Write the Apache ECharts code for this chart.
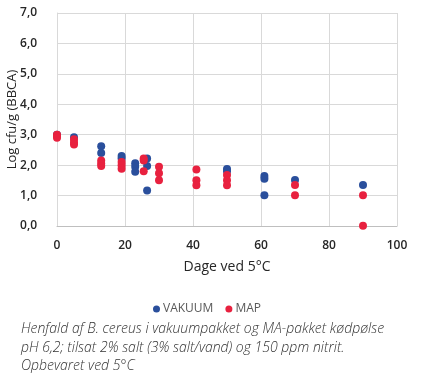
<!DOCTYPE html>
<html><head><meta charset="utf-8">
<script src="https://cdn.jsdelivr.net/npm/echarts@6/dist/echarts.min.js"></script>
<style>html,body{margin:0;padding:0;background:#fff}#c{width:432px;height:390px}</style>
</head><body><div id="c"></div>
<script>
var xTicks = [0, 20, 40, 60, 80, 100];
var yTicks = [0, 1, 2, 3, 4, 5, 6, 7];
var seriesNames = ['VAKUUM', 'MAP'];
var vakuumDays = [0, 5, 13, 13, 19, 19, 23, 23, 23, 26.5, 26.5, 26.5, 50, 50, 61, 61, 61, 70, 90];
var vakuumLog  = [3.0, 2.92, 2.62, 2.4, 2.3, 2.22, 2.06, 1.95, 1.78, 2.22, 1.97, 1.17, 1.87, 1.8, 1.64, 1.55, 1.01, 1.51, 1.35];
var mapDays = [0, 0, 0, 5, 5, 5, 13, 13, 13, 19, 19, 19, 25.5, 25.5, 25.5, 30, 30, 30, 41, 41, 41, 50, 50, 50, 70, 70, 90, 90];
var mapLog  = [3.0, 2.95, 2.9, 2.85, 2.75, 2.68, 2.15, 2.05, 1.97, 2.1, 2.0, 1.88, 2.22, 2.15, 1.8, 1.95, 1.73, 1.5, 1.86, 1.5, 1.34, 1.68, 1.5, 1.34, 1.35, 1.01, 1.01, 0.01];
var caption = 'Henfald af B. cereus i vakuumpakket og MA-pakket kødpølse\npH 6,2; tilsat 2% salt (3% salt/vand) og 150 ppm nitrit.\nOpbevaret ved 5°C';

function pairs(xs, ys){ return xs.map(function(x,i){return [x, ys[i]];}); }
var chart = echarts.init(document.getElementById('c'), null, {renderer:'canvas'});
var font = '"Open Sans", "Noto Sans", sans-serif';
chart.setOption({
  animation: false,
  textStyle: {fontFamily: font},
  grid: {left: 57, right: 35, top: 13, bottom: 164, containLabel: false, outerBoundsMode: 'none'},
  title: {
    text: caption, left: 16, top: 315,
    textStyle: {fontFamily: font, fontStyle: 'italic', fontWeight: 300, fontSize: 14, lineHeight: 18.5, color: '#333333'}
  },
  legend: {
    data: seriesNames, top: 298, left: 148,
    icon: 'circle', itemWidth: 7, itemHeight: 7, itemGap: 12,
    textStyle: {fontFamily: font, fontSize: 12, color: '#595959', padding: [0,0,0,-2]}
  },
  xAxis: {
    type: 'value', min: 0, max: 100, interval: 20,
    name: 'Dage ved 5°C', nameLocation: 'middle', nameGap: 34, nameMoveOverlap: false,
    nameTextStyle: {fontFamily: font, fontSize: 14, color: '#262626'},
    axisLine: {show: true, lineStyle: {color: '#bfbfbf'}},
    axisTick: {show: false},
    axisLabel: {fontFamily: font, fontSize: 12, fontWeight: 600, color: '#262626', margin: 14,
      formatter: function(v){ return xTicks.indexOf(v) >= 0 ? String(v) : ''; }},
    splitLine: {show: true, lineStyle: {color: '#d9d9d9'}}
  },
  yAxis: {
    type: 'value', min: 0, max: 7, interval: 1,
    name: 'Log cfu/g (BBCA)', nameLocation: 'middle', nameGap: 38, nameRotate: 90, nameMoveOverlap: false,
    nameTextStyle: {fontFamily: font, fontSize: 13, color: '#262626'},
    axisLine: {show: true, lineStyle: {color: '#d9d9d9'}},
    axisTick: {show: false},
    axisLabel: {fontFamily: font, fontSize: 12, fontWeight: 600, color: '#262626', margin: 20,
      formatter: function(v){ return yTicks.indexOf(v) >= 0 ? v.toFixed(1).replace('.', ',') : ''; }},
    splitLine: {show: true, lineStyle: {color: '#d9d9d9'}}
  },
  series: [
    {name: seriesNames[0], type: 'scatter', symbolSize: 8, itemStyle: {color: '#2a4f9c', opacity: 1}, data: pairs(vakuumDays, vakuumLog)},
    {name: seriesNames[1], type: 'scatter', symbolSize: 8, itemStyle: {color: '#e8213f', opacity: 1}, data: pairs(mapDays, mapLog)}
  ]
});
</script></body></html>
